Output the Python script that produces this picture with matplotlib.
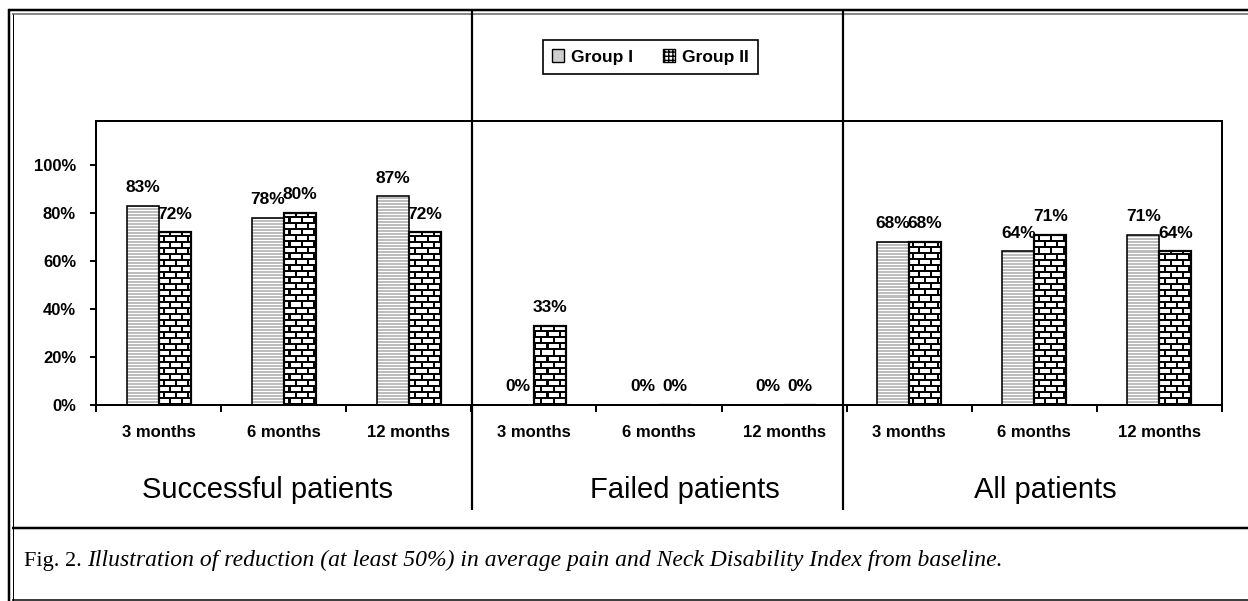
import numpy as np
import matplotlib
matplotlib.use('Agg')
import matplotlib.pyplot as plt
from matplotlib.patches import Patch
import matplotlib.transforms as mtransforms

# ---------------- data ----------------
sections = ['Successful patients', 'Failed patients', 'All patients']
periods = ['3 months', '6 months', '12 months']
series_names = ['Group I', 'Group II']
group1 = [83, 78, 87, 0, 0, 0, 68, 64, 71]
group2 = [72, 80, 72, 33, 0, 0, 68, 71, 64]
yticks = [0, 20, 40, 60, 80, 100]
caption_lead = 'Fig. 2.'
caption_text = ('Illustration of reduction (at least 50%) in average pain and '
                'Neck Disability Index from baseline.')

W, H, DPI = 1248, 601, 100
PT = 72.0 / DPI
SANS = 'Liberation Sans'
SERIF = 'Liberation Serif'

fig = plt.figure(figsize=(W / DPI, H / DPI), dpi=DPI)
fig.patch.set_facecolor('white')

# background layer (frame lines, caption) in pixel coordinates
bg = fig.add_axes([0, 0, 1, 1])
bg.set_xlim(0, W)
bg.set_ylim(H, 0)
bg.axis('off')

AX_L, AX_T, AX_R, AX_B = 96, 121, 1222, 405
ax = fig.add_axes([AX_L / W, 1 - AX_B / H, (AX_R - AX_L) / W, (AX_B - AX_T) / H])
ax.set_facecolor('none')

YMAX = 1.183
n = len(group1)
x = np.arange(n)
w = 0.256

# textures (pixel-sized to the axes)
axw, axh = AX_R - AX_L, AX_B - AX_T
yy, xx = np.mgrid[0:axh, 0:axw]
stripes = np.where(yy % 3 == 0, 1.0, 0.74)
bricks = np.ones((axh, axw))
row = yy // 6
bricks[(yy % 6) < 2] = 0.0
bricks[((xx + (row % 2) * 6) % 12) < 2] = 0.0

v1 = np.array(group1) / 100.0
v2 = np.array(group2) / 100.0
b1 = ax.bar(x - w / 2, v1, w, facecolor='none', edgecolor='black', lw=1.6 * PT, zorder=3)
b2 = ax.bar(x + w / 2, v2, w, facecolor='none', edgecolor='black', lw=2.2 * PT, zorder=3)
ax.set_xlim(-0.5, n - 0.5)
ax.set_ylim(0, YMAX)

for bars, tex in ((b1, stripes), (b2, bricks)):
    for bar in bars:
        if bar.get_height() <= 0:
            continue
        im = ax.imshow(tex, extent=(-0.5, n - 0.5, 0, YMAX), aspect='auto',
                       cmap='gray', vmin=0, vmax=1, interpolation='nearest', zorder=2)
        im.set_clip_path(bar)
ax.set_xlim(-0.5, n - 0.5)
ax.set_ylim(0, YMAX)

# value labels
for xi, v in zip(x, group1):
    ax.text(xi - w / 2, v / 100 + 0.075, f'{v}%', ha='center', va='center',
            fontsize=12.5, fontweight='bold', family=SANS, zorder=4)
for xi, v in zip(x, group2):
    ax.text(xi + w / 2, v / 100 + 0.075, f'{v}%', ha='center', va='center',
            fontsize=12.5, fontweight='bold', family=SANS, zorder=4)

# axes styling
for sp in ax.spines.values():
    sp.set_linewidth(2 * PT)
ax.set_xticks(x)
ax.set_xticklabels(periods * 3)
ax.set_xticks(np.arange(-0.5, n, 1), minor=True)
ax.tick_params(axis='x', which='major', length=0, pad=14.5)
ax.tick_params(axis='x', which='minor', length=7 * PT, width=2 * PT, direction='out')
ax.set_yticks(np.array(yticks) / 100)
ax.set_yticklabels([f'{t}%' for t in yticks])
ax.tick_params(axis='y', length=6 * PT, width=2 * PT, pad=10)
for lab in ax.get_xticklabels() + ax.get_yticklabels():
    lab.set_fontweight('bold')
    lab.set_fontsize(12)
    lab.set_family(SANS)

# section labels
sec_x = [0.871, 4.208, 7.09]
trans = mtransforms.blended_transform_factory(ax.transData, ax.transAxes)
for sx, s in zip(sec_x, sections):
    ax.text(sx, -0.298, s, transform=trans, ha='center', va='center',
            fontsize=21, family=SANS)

# frame lines
def hline(y, x0, x1, lw, color='black'):
    bg.plot([x0, x1], [y, y], color=color, lw=lw * PT, solid_capstyle='butt')

def vline(xp, y0, y1, lw, color='black'):
    bg.plot([xp, xp], [y0, y1], color=color, lw=lw * PT, solid_capstyle='butt')

hline(10, 8, W, 2.5)
hline(14, 12, W, 2.0, '#888888')
vline(9, 9, H, 2.5)
vline(12.5, 14, H, 1.0)
hline(527.5, 12, W, 2.5)
hline(600, 12, W, 1.5)
vline(472, 10, 510, 2.2)
vline(842.5, 10, 510, 2.2)

# caption
bg.text(24, 566, caption_lead, family=SERIF, fontsize=16, va='baseline', ha='left')
bg.text(87, 566, caption_text, family=SERIF, style='italic', fontsize=17,
        va='baseline', ha='left')

# legend
handles = [Patch(facecolor='#cfcfcf', edgecolor='black', lw=1),
           Patch(facecolor='white', edgecolor='black', hatch='++++', lw=1)]
leg = fig.legend(handles, series_names, loc='center',
                 bbox_to_anchor=(650.5 / W, 1 - 57 / H), ncol=2, frameon=True,
                 fancybox=False, edgecolor='black', framealpha=1,
                 prop=dict(family=SANS, weight='bold', size=12.5),
                 handlelength=0.7, handleheight=0.7, handletextpad=0.4,
                 columnspacing=1.7, borderpad=0.55)
leg.get_frame().set_linewidth(1.2)

fig.savefig('out.png', dpi=DPI)
